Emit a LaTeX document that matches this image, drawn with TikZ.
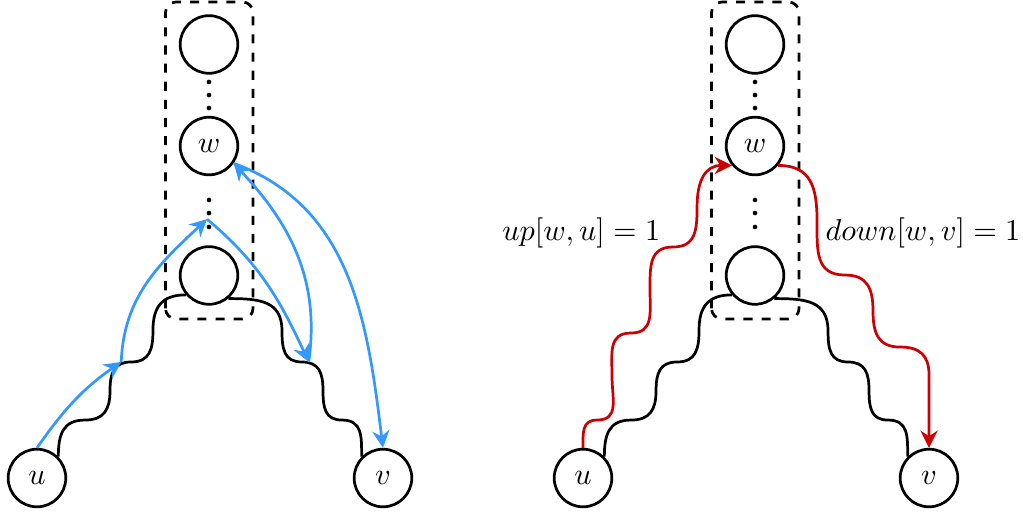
\documentclass[tikz,border=0pt]{standalone}
\usepackage{amsmath}
\usetikzlibrary{arrows.meta}

\definecolor{hopblue}{RGB}{51,153,255}
\definecolor{walkred}{RGB}{204,0,0}

\begin{document}
\begin{tikzpicture}[>={Stealth[length=2mm, width=2mm]}, line width=0.9pt,
    vtx/.style={draw, circle, minimum size=0.67cm, inner sep=0pt},
    wig/.style={looseness=1.25},
    hop/.style={->, hopblue},
    walk/.style={->, walkred, wig}]

    \useasboundingbox (-0.43,-0.395) rectangle (11.465,5.558);

    % --- 1. Both copies of the tree (u, v and the column through w) ---
    \foreach \p/\dx in {l/0, r/6.349} {
    \begin{scope}[xshift=\dx cm]
        \node [vtx] (\p u) at (0,0) {$u$};
        \node [vtx] (\p v) at (4.023,0) {$v$};

        \node [vtx] (\p t) at (2,5.041) {};
        \node [vtx] (\p w) at (2,3.860) {$w$};
        \node [vtx] (\p b) at (2,2.355) {};

        \foreach \y in {4.605, 4.453, 4.302, 3.233, 3.081, 2.919} {
            \fill (2,\y) circle (0.027);
        }

        \draw [dashed, rounded corners=3.5pt] (1.494,1.849) rectangle (2.512,5.535);

        % wiggly paths down to u and v
        \draw [wig] (\p u.45) to[out=90,in=180] (0.558,0.674) to[out=0,in=-90] (0.849,1.012)
            to[out=90,in=180] (1.093,1.349) to[out=0,in=-90] (1.349,1.721)
            to[out=90,in=180] (\p b.220);
        \draw [wig] (\p b.-50) to[out=0,in=90] (2.849,1.709) to[out=-90,in=180] (3.081,1.349)
            to[out=0,in=90] (3.326,1.012) to[out=-90,in=180] (3.547,0.674)
            to[out=0,in=90] (\p v.135);
    \end{scope}
    }

    % --- 2. Blue hops (left) ---
    \coordinate (hu) at (0.98,1.35);
    \coordinate (hv) at (3.16,1.35);
    \coordinate (mid) at (1.977,3.01);

    \draw [hop] (lu.north) to[out=55,in=-145] (hu);
    \draw [hop] (hu) to[out=88,in=-137] (mid);
    \draw [hop] (mid) to[out=-40,in=115] (hv);
    \draw [hop] (hv) to[out=82,in=-47] (lw.-35);
    \draw [hop] (lw.-35) to[out=-20,in=97] (lv.north);

    % --- 3. Red up/down walks (right) ---
    \begin{scope}[xshift=6.349cm]
        \draw [walk] (ru.north) to[out=90,in=180] (0.163,0.674) to[out=0,in=-90] (0.337,1.186)
            to[out=90,in=180] (0.558,1.686) to[out=0,in=-90] (0.779,2.186)
            to[out=90,in=180] (1.047,2.686) to[out=0,in=-90] (1.326,3.151)
            to[out=90,in=180] (rw.220);
        \draw [walk] (rw.-40) to[out=0,in=90] (2.721,2.988) to[out=-90,in=180] (3.047,2.360)
            to[out=0,in=90] (3.372,1.942) to[out=-90,in=180] (3.686,1.523)
            to[out=0,in=90] (4.023,1.2) -- (rv.north);

        \node (uplbl) at (-0.02,2.85) {$up[w,u] = 1$};
        \node (downlbl) at (3.953,2.85) {$down[w,v] = 1$};
    \end{scope}

\end{tikzpicture}
\end{document}
